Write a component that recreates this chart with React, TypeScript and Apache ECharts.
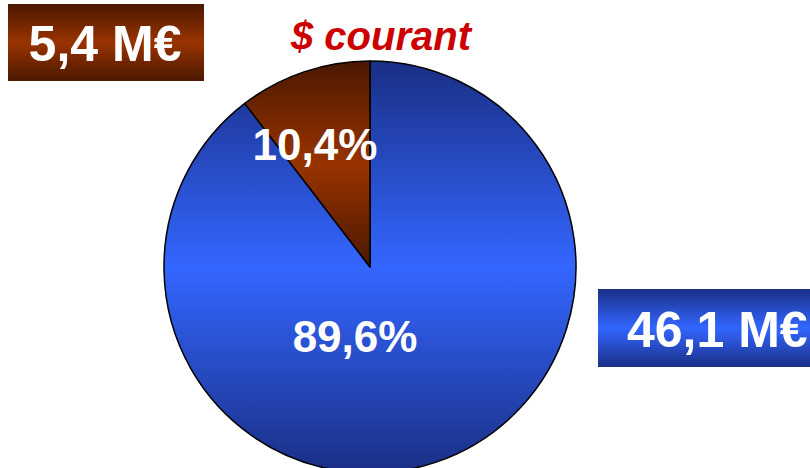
import React, { useEffect, useRef } from "react";
import * as echarts from "echarts";

const categories = ["Autres", "$ courant"];
const shares = [89.6, 10.4];
const shareLabels = ["89,6%", "10,4%"];
const amountLabels = ["46,1 M€", "5,4 M€"];
const title = "$ courant";

const FONT = "'Liberation Sans', Arial, sans-serif";

function vGrad(dark: string, light: string) {
  return new echarts.graphic.LinearGradient(0, 0, 0, 1, [
    { offset: 0, color: dark },
    { offset: 0.5, color: light },
    { offset: 1, color: dark },
  ]);
}

function shadowText(
  text: string,
  x: number,
  y: number,
  font: string,
  fill: string,
  shadow: string,
  d: number,
  align: string
) {
  return {
    type: "text",
    x,
    y,
    style: {
      text,
      fill,
      font,
      align,
      verticalAlign: "middle",
      shadowColor: shadow,
      shadowBlur: 0.6,
      shadowOffsetX: d,
      shadowOffsetY: d,
    },
  };
}

export default function App() {
  const ref = useRef<HTMLDivElement>(null);
  useEffect(() => {
    const chart = echarts.init(ref.current!, null, { renderer: "svg" });
    const blue = vGrad("#1a2f85", "#3366ff");
    const brown = vGrad("#4a1800", "#993300");
    chart.setOption({
      animation: false,
      backgroundColor: "#ffffff",
      series: [
        {
          type: "pie",
          center: [370, 267],
          radius: [0, 206],
          startAngle: 90,
          clockwise: true,
          silent: true,
          itemStyle: { borderColor: "#000", borderWidth: 1.5 },
          label: {
            show: true,
            position: "inside",
            color: "#fff",
            fontFamily: FONT,
            fontWeight: "bold",
            fontSize: 44,
          },
          labelLine: { show: false },
          data: categories.map((name, i) => ({
            name,
            value: shares[i],
            itemStyle: { color: i === 0 ? blue : brown },
            label: {
              formatter: shareLabels[i],
              offset: i === 0 ? [-49, -31] : [-21, -22],
            },
          })),
        },
      ],
      graphic: [
        {
          type: "rect",
          shape: { x: 8, y: 4, width: 196, height: 77 },
          style: { fill: vGrad("#4a1800", "#993300") },
        },
        shadowText(amountLabels[1], 105, 44, `bold 50px ${FONT}`, "#fff", "#000", 3, "center"),
        {
          type: "rect",
          shape: { x: 598, y: 289, width: 220, height: 78 },
          style: { fill: vGrad("#1a2f85", "#3366ff") },
        },
        shadowText(amountLabels[0], 627, 330, `bold 50px ${FONT}`, "#fff", "#000", 3, "left"),
        shadowText(title, 381, 36, `italic bold 40px ${FONT}`, "#cc0000", "#b8b8b8", 2, "center"),
      ],
    });
    return () => chart.dispose();
  }, []);
  return (
    <div
      ref={ref}
      style={{ position: "fixed", left: 0, top: 0, width: 810, height: 468 }}
    />
  );
}
